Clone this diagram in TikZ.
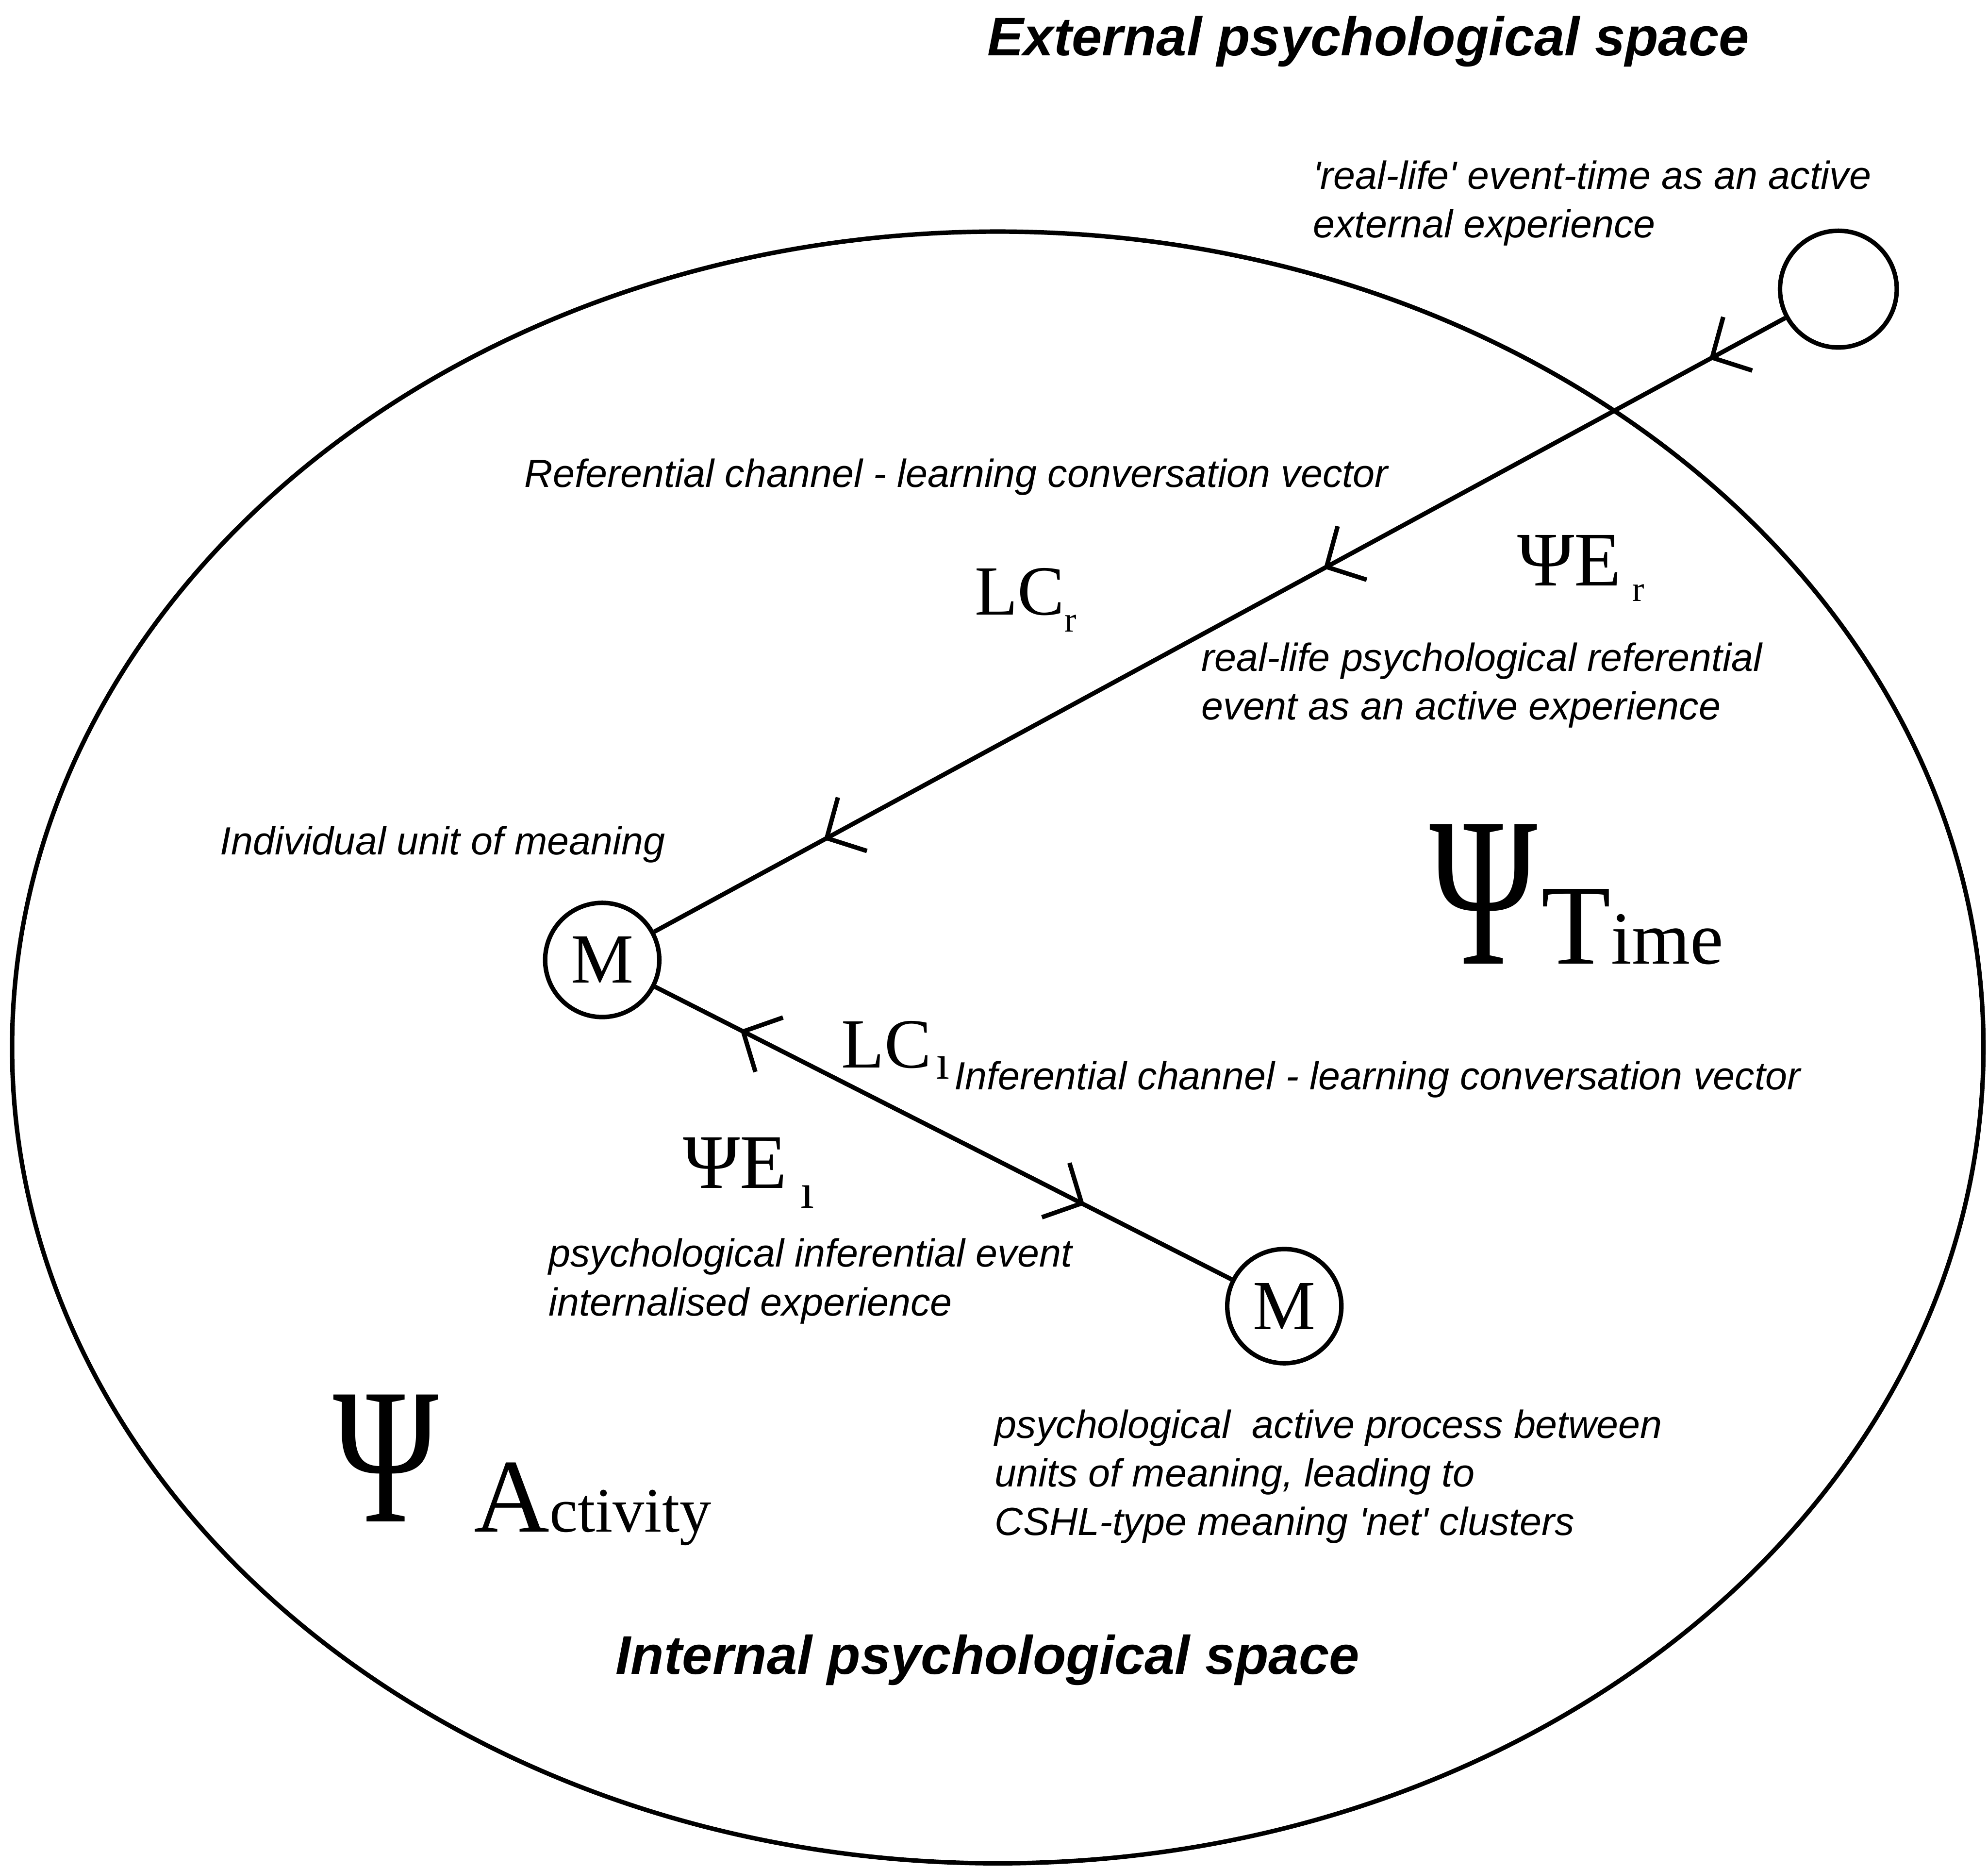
\documentclass[tikz,border=0pt]{standalone}
\usepackage{fontspec}
\usepackage{graphicx}
\setmainfont{Liberation Serif}
\newfontfamily\labfont{Liberation Sans}
\usetikzlibrary{arrows.meta,decorations.markings}

\begin{document}
\begin{tikzpicture}[x=0.01cm,y=-0.01cm,
  stroke/.style={line width=1pt},
  unit/.style={circle,draw,line width=1pt,minimum size=0.9cm,inner sep=0pt,
    font=\fontsize{15.8}{16}\selectfont},
  lab/.style={anchor=north west,inner sep=0pt,align=left,
    font=\labfont\itshape\fontsize{8.8}{10.9}\selectfont},
  head/.style={anchor=base west,inner sep=0pt,
    font=\labfont\bfseries\itshape\fontsize{12.2}{14}\selectfont},
  sym/.style={anchor=base west,inner sep=0pt,font=\fontsize{15.8}{16}\selectfont},
  psisym/.style={anchor=base west,inner sep=0pt,font=\fontsize{17.3}{18}\selectfont},
  big/.style={anchor=base west,inner sep=0pt},
  barb/.tip={Straight Barb[length=0.23cm,width=0.48cm,line width=1pt]}
]
\useasboundingbox (0,0) rectangle (1568,1473.5);

% internal psychological space
\draw[stroke] (787,826) ellipse [x radius=7.77cm, y radius=6.43cm];

% event and units of meaning
\node[circle,draw,line width=1pt,minimum size=0.92cm,inner sep=0pt] (ext) at (1450,228) {};
\node[unit] (m1) at (475,757) {M};
\node[unit] (m2) at (1013,1030) {M};

% referential channel
\draw[stroke,postaction={decorate},decoration={markings,
    mark=at position 0.067 with {\arrow{barb}},
    mark=at position 0.408 with {\arrow{barb}},
    mark=at position 0.850 with {\arrow{barb}}}] (ext) -- (m1);

% inferential channel
\draw[stroke,postaction={decorate},decoration={markings,
    mark=at position 0.148 with {\arrowreversed{barb}},
    mark=at position 0.745 with {\arrow{barb}}}] (m1) -- (m2);

% headings
\node[head] (exthead) at (778,44) {External psychological space};
\node[head] (inthead) at (485,1320) {Internal psychological space};

% descriptive labels
\node[lab] (evtime) at (1035,126) {\textquotesingle real-life\textquotesingle\ event-time as an active\\external experience};
\node[lab] (refch) at (413,361) {Referential channel - learning conversation vector};
\node[lab] (refev) at (947,506) {real-life psychological referential\\event as an active experience};
\node[lab] (unitlab) at (173,651) {Individual unit of meaning};
\node[lab] (infch) at (752,836) {Inferential channel - learning conversation vector};
\node[lab] (infev) at (432,976) {psychological inferential event\\internalised experience};
\node[lab] (proc) at (784,1111) {psychological~ active process between\\units of meaning, leading to\\CSHL-type meaning \textquotesingle net\textquotesingle\ clusters};

% channel and event symbols
\node[sym] (lcr) at (768,485) {LC\raisebox{-3.8pt}{\fontsize{8}{8}\selectfont r}};
\node[psisym] (psier) at (1196,462) {ΨE\hspace{2.5pt}\raisebox{-3.5pt}{\fontsize{8}{8}\selectfont r}};
\node[sym] (lci) at (663,842) {LC\hspace{1pt}\raisebox{-2.5pt}{\fontsize{11}{12}\selectfont ı}};
\node[psisym] (psiei) at (538,937) {ΨE\hspace{3pt}\raisebox{-4.5pt}{\fontsize{11}{12}\selectfont ı}};

% psi-time and psi-activity
\node[big] (psitime) at (1127,760) {\resizebox{0.85cm}{1.10cm}{Ψ}};
\node[big] (timeword) at (1215,760) {\fontsize{25.6}{26}\selectfont T\fontsize{16.8}{17}\selectfont ime};
\node[big] (psiact) at (262,1200) {\resizebox{0.83cm}{1.00cm}{Ψ}};
\node[big] (actword) at (373,1208) {\fontsize{23.5}{24}\selectfont A\fontsize{14.2}{15}\selectfont ctivity};
\end{tikzpicture}
\end{document}
